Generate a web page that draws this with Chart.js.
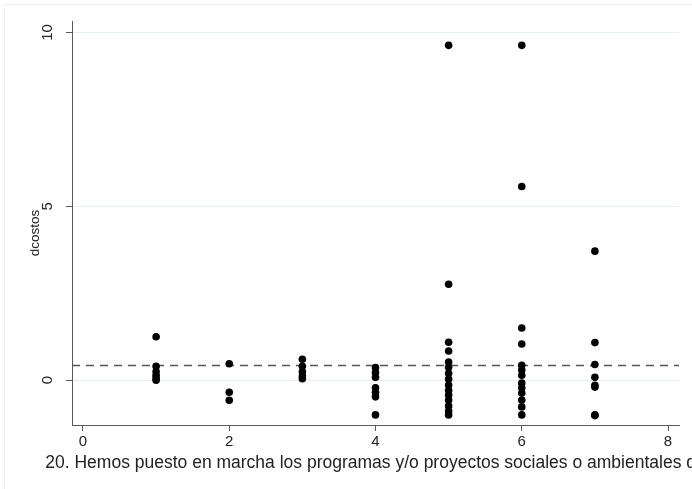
<!DOCTYPE html>
<html>
<head>
<meta charset="utf-8">
<script src="https://cdn.jsdelivr.net/npm/chart.js@4"></script>
<style>
  html, body { margin: 0; padding: 0; background: #ffffff; }
  #wrap { width: 692px; height: 489px; position: relative; }
</style>
</head>
<body>
<div id="wrap"><canvas id="c" width="692" height="489"></canvas></div>
<script>
// Response categories (x) and the dcostos values observed at each one
const x1 = [1.25, 0.40, 0.25, 0.14, 0.06, 0.0];
const x2 = [0.47, -0.35, -0.58];
const x3 = [0.60, 0.40, 0.24, 0.12, 0.04];
const x4 = [0.36, 0.22, 0.08, -0.22, -0.35, -0.48, -1.0];
const x5 = [9.63, 2.76, 1.09, 0.84, 0.52, 0.37, 0.20, 0.03, -0.14, -0.29, -0.43, -0.57, -0.74, -0.89, -1.0];
const x6 = [9.63, 5.57, 1.50, 1.04, 0.43, 0.29, 0.14, -0.08, -0.22, -0.37, -0.57, -0.77, -1.0];
const x7 = [3.71, 1.08, 0.45, 0.08, -0.15, -0.20, -1.0, -1.02];
const categories = [1, 2, 3, 4, 5, 6, 7];
const columns = [x1, x2, x3, x4, x5, x6, x7];

// Reference level drawn as a dashed horizontal line
const meanLevel = 0.42;

// Axis ranges and tick labels
const xRange = [-0.15, 8.15];
const yRange = [-1.29, 10.33];
const xTicks = [0, 2, 4, 6, 8];
const yTicks = [0, 5, 10];

const xTitle = '20. Hemos puesto en marcha los programas y/o proyectos sociales o ambientales de';
const yTitle = 'dcostos';

const points = [];
categories.forEach((c, i) => columns[i].forEach(v => points.push({ x: c, y: v })));

const family = '"Liberation Sans", Arial, Helvetica, sans-serif';
const tickSize = 15;
const xTitleSize = 17.5;
const yTitleSize = 13.5;
const textColor = '#222222';
const axisColor = '#5a5a5a';
const gridColor = '#e9eff1';

// White page with a faint frame line along the top and left edges
const frame = {
  id: 'frame',
  beforeDraw(chart) {
    const ctx = chart.ctx;
    ctx.save();
    ctx.fillStyle = '#ffffff';
    ctx.fillRect(0, 0, chart.width, chart.height);
    ctx.strokeStyle = '#eef1f3';
    ctx.lineWidth = 1;
    ctx.beginPath();
    ctx.moveTo(4.5, chart.height);
    ctx.lineTo(4.5, 4.5);
    ctx.lineTo(chart.width, 4.5);
    ctx.stroke();
    ctx.restore();
  }
};

// Axis text: vertical y tick labels and both axis titles.
// The x title is drawn at full width and simply runs off the right edge.
const axisText = {
  id: 'axisText',
  afterDraw(chart) {
    const { x, y } = chart.scales;
    const area = chart.chartArea;
    const ctx = chart.ctx;
    ctx.save();
    ctx.fillStyle = textColor;
    ctx.textAlign = 'center';
    ctx.textBaseline = 'middle';

    ctx.font = `${tickSize}px ${family}`;
    yTicks.forEach(v => {
      const py = y.getPixelForValue(v);
      ctx.save();
      ctx.translate(y.right - 24, py);
      ctx.rotate(-Math.PI / 2);
      ctx.fillText(String(v), 0, 0);
      ctx.restore();
    });

    ctx.font = `${yTitleSize}px ${family}`;
    ctx.save();
    ctx.translate(y.right - 37, (area.top + area.bottom) / 2 + 10);
    ctx.rotate(-Math.PI / 2);
    ctx.fillText(yTitle, 0, 0);
    ctx.restore();

    ctx.font = `${xTitleSize}px ${family}`;
    ctx.fillText(xTitle, (area.left + area.right) / 2, x.top + 38);
    ctx.restore();
  }
};

new Chart(document.getElementById('c'), {
  type: 'scatter',
  data: {
    datasets: [
      {
        type: 'line',
        data: [{ x: xRange[0], y: meanLevel }, { x: xRange[1], y: meanLevel }],
        borderColor: '#555555',
        borderWidth: 1.6,
        borderDash: [8, 6],
        pointRadius: 0,
        fill: false,
        order: 2
      },
      {
        data: points,
        backgroundColor: '#000000',
        borderColor: '#000000',
        borderWidth: 0,
        pointRadius: 3.8,
        order: 1
      }
    ]
  },
  plugins: [frame, axisText],
  options: {
    responsive: false,
    animation: false,
    events: [],
    layout: { padding: { left: 0, right: 13, top: 21, bottom: 0 } },
    plugins: { legend: { display: false }, tooltip: { enabled: false } },
    scales: {
      x: {
        type: 'linear',
        min: xRange[0],
        max: xRange[1],
        afterBuildTicks: s => { s.ticks = xTicks.map(v => ({ value: v })); },
        afterFit: s => { s.height = 64; },
        border: { display: true, color: axisColor, width: 1 },
        grid: { drawOnChartArea: false, drawTicks: true, tickLength: 6, tickColor: axisColor },
        ticks: { color: textColor, font: { family, size: tickSize }, padding: 2, maxRotation: 0 }
      },
      y: {
        type: 'linear',
        min: yRange[0],
        max: yRange[1],
        afterBuildTicks: s => { s.ticks = yTicks.map(v => ({ value: v })); },
        afterFit: s => { s.width = 72; },
        border: { display: true, color: axisColor, width: 1 },
        grid: { color: gridColor, lineWidth: 1, drawTicks: true, tickLength: 6, tickColor: axisColor },
        ticks: { display: false }
      }
    }
  }
});
</script>
</body>
</html>
